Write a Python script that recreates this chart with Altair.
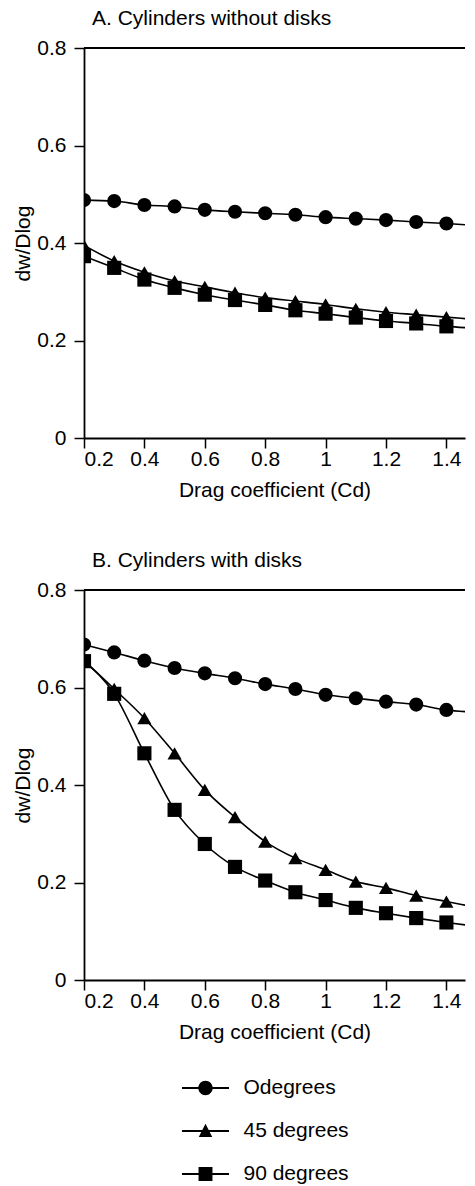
import altair as alt
import pandas as pd

# ---- data ----
cd = [0.2, 0.3, 0.4, 0.5, 0.6, 0.7, 0.8, 0.9, 1.0, 1.1, 1.2, 1.3, 1.4, 1.5]
series_names = ["Odegrees", "45 degrees", "90 degrees"]

a_0deg = [0.488, 0.486, 0.478, 0.475, 0.468, 0.464, 0.461, 0.458, 0.453, 0.450, 0.447, 0.443, 0.440, 0.436]
a_45deg = [0.395, 0.363, 0.340, 0.322, 0.310, 0.298, 0.288, 0.281, 0.274, 0.265, 0.258, 0.253, 0.248, 0.243]
a_90deg = [0.373, 0.349, 0.325, 0.308, 0.294, 0.283, 0.273, 0.262, 0.255, 0.247, 0.240, 0.235, 0.229, 0.225]

b_0deg = [0.688, 0.672, 0.655, 0.640, 0.629, 0.619, 0.607, 0.597, 0.585, 0.578, 0.571, 0.565, 0.554, 0.549]
b_45deg = [0.655, 0.597, 0.537, 0.465, 0.390, 0.334, 0.284, 0.250, 0.226, 0.202, 0.189, 0.173, 0.161, 0.149]
b_90deg = [0.654, 0.587, 0.465, 0.349, 0.279, 0.232, 0.204, 0.180, 0.164, 0.148, 0.137, 0.127, 0.118, 0.110]

x_ticks = [0.2, 0.4, 0.6, 0.8, 1.0, 1.2, 1.4]
y_ticks = [0, 0.2, 0.4, 0.6, 0.8]

title_a = "A. Cylinders without disks"
title_b = "B. Cylinders with disks"
x_title = "Drag coefficient (Cd)"
y_title = "dw/Dlog"

FONT = "Liberation Sans"
FS = 21


def long_df(lists):
    rows = []
    for name, vals in zip(series_names, lists):
        for xv, yv in zip(cd, vals):
            rows.append({"cd": xv, "v": yv, "series": name})
    return pd.DataFrame(rows)


df_a = long_df([a_0deg, a_45deg, a_90deg])
df_b = long_df([b_0deg, b_45deg, b_90deg])
top_df = pd.DataFrame({"v": [y_ticks[-1]]})

shapes = ["circle", "triangle-up", "square"]
BAR = "M-1.96,-0.075H1.96V0.075H-1.96Z"
legend_paths = [
    BAR + "M-0.6,0A0.6,0.6,0,1,1,0.6,0A0.6,0.6,0,1,1,-0.6,0Z",
    BAR + "M0,-0.6L0.56,0.5L-0.56,0.5Z",
    BAR + "M-0.58,-0.58H0.58V0.58H-0.58Z",
]


def panel(df, title, with_legend=False):
    x_enc = alt.X(
        "cd:Q",
        scale=alt.Scale(domain=[0.2, 1.4616], nice=False, zero=False),
        axis=alt.Axis(values=x_ticks, format="~g", title=x_title,
                      labelPadding=0, titlePadding=10),
    )
    y_enc = alt.Y(
        "v:Q",
        scale=alt.Scale(domain=[0, 0.8], nice=False),
        axis=alt.Axis(values=y_ticks, format="~g", title=y_title,
                      labelPadding=8, titlePadding=3),
    )
    top = alt.Chart(top_df).mark_rule(color="black", strokeWidth=1.8).encode(y="v:Q")
    lines = alt.Chart(df).mark_line(
        color="black", strokeWidth=1.6, interpolate="monotone", clip=True
    ).encode(x=x_enc, y=y_enc, detail="series:N")
    layers = [top, lines]
    for name, shp in zip(series_names, shapes):
        layers.append(
            alt.Chart(df).transform_filter(alt.datum.series == name).mark_point(
                shape=shp, filled=True, color="black", size=200, opacity=1, clip=True
            ).encode(x=x_enc, y=y_enc)
        )
    if with_legend:
        layers.append(
            alt.Chart(df).mark_point(filled=True, color="black",
                                     opacity=0, clip=True).encode(
                x=x_enc, y=y_enc,
                shape=alt.Shape(
                    "series:N",
                    scale=alt.Scale(domain=series_names, range=legend_paths),
                    legend=alt.Legend(
                        orient="none", legendX=109.5, legendY=1028, title=None,
                        symbolSize=576, symbolOpacity=1, symbolFillColor="black",
                        symbolStrokeWidth=0,
                        labelFont=FONT, labelFontSize=FS, labelColor="black",
                        labelOffset=26, rowPadding=21, padding=0,
                    ),
                ),
            )
        )
    return alt.layer(*layers).properties(
        width=381, height=390,
        title=alt.TitleParams(title, anchor="start", frame="group", dx=8,
                              font=FONT, fontSize=FS, fontWeight="normal",
                              color="black", offset=8),
    )


chart = alt.vconcat(
    panel(df_a, title_a),
    panel(df_b, title_b, with_legend=True),
    spacing=50,
).properties(
    padding={"left": 4, "top": 0, "right": 0, "bottom": 0},
).configure_view(stroke=None).configure_axis(
    grid=False, domainColor="black", domainWidth=1.8, tickColor="black",
    tickWidth=1.5, tickSize=10, labelFont=FONT, labelFontSize=FS,
    labelColor="black", titleFont=FONT, titleFontSize=FS,
    titleFontWeight="normal", titleColor="black",
)

chart.save("out.html", embed_options={"renderer": "svg", "actions": False})
